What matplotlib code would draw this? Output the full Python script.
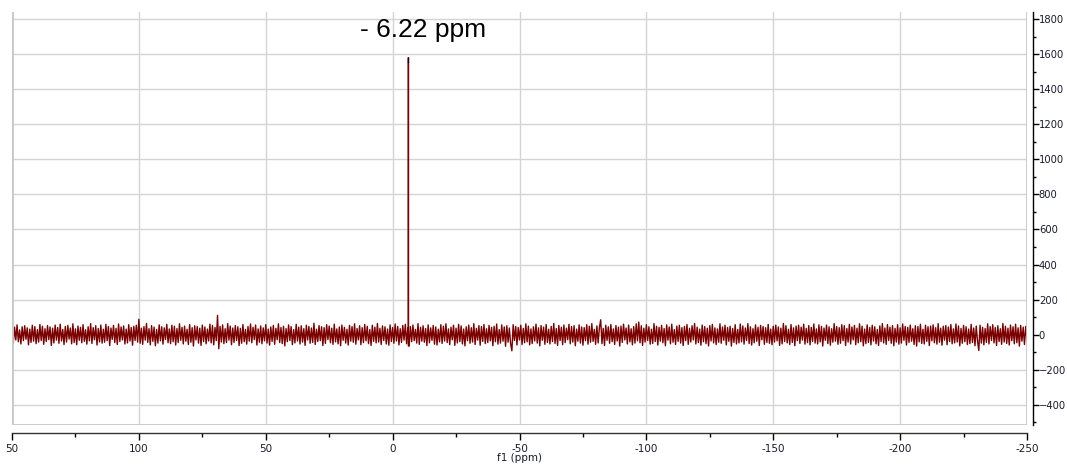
import numpy as np
import matplotlib
matplotlib.use("Agg")
import matplotlib.pyplot as plt
from matplotlib.ticker import MultipleLocator, FixedLocator

# ---- data ----
ppm_start, ppm_end = 150.0, -250.0
noise = [
    36,-48,43,-30,56,-40,27,-53,45,-34,51,-26,39,-58,32,-44,54,-37,46,-51,29,-42,58,-33,48,
    -55,34,-39,52,-28,44,-61,37,-47,55,-31,41,-49,60,-36,30,-56,47,-42,53,-25,38,-52,62,-45,
    33,-57,49,-32,42,-46,57,-38,28,-54,45,-35,63,-50,40,-29,51,-59,35,-41,55,-48,31,-43,59,
    -34,47,-62,38,-27,53,-45,36,-56,61,-39,44,-30,50,-53,32,-47,57,-36,41,-60,48,-33,54,-42,
    88,-49,37,-55,46,-31,64,-44,34,-58,52,-38,43,-63,30,-48,56,-35,45,-54,39,-28,59,-46,33,
    -51,54,-40,48,-59,35,-45,62,-32,42,-53,49,-37,31,-56,58,-43,40,-65,51,-30,46,-48,37,-61,
    55,-39,44,-52,32,-36,60,-47,53,-58,41,-34,110,-80,47,-42,56,-51,34,-45,63,-31,49,-57,38,
    -44,52,-33,45,-62,36,-49,58,-40,30,-54,47,-37,61,-46,42,-28,55,-59,33,-43,50,-52,39,-35,
    57,-48,32,-60,44,-38,53,-55,36,-29,62,-45,41,-51,48,-64,35,-40,56,-33,46,-57,29,-47,59,
    -36,43,-53,51,-42,34,-61,54,-30,47,-49,38,-44,65,-56,31,-39,52,-34,45,-62,40,-50,57,-28,
    49,-46,37,-55,60,-41,33,-52,44,-63,55,-32,42,-48,31,-59,53,-37,46,-43,62,-54,35,-30,51,
    -57,40,-45,58,-35,48,-51,29,-61,54,-38,43,-47,64,-42,36,-56,50,-33,45,-53,32,-60,56,-39,
    41,-49,61,-36,47,-58,34,-44,53,-31,59,-52,38,-65,46,-40,55,-34,30,-48,63,-55,42,-37,51,
    -43,35,-62,56,-46,39,-32,52,-54,44,-59,31,-41,57,-50,48,-36,62,-45,33,-57,43,-29,54,-61,
    37,-47,59,-39,50,-53,32,-64,45,-34,55,-49,40,-42,63,-56,36,-31,52,-60,46,-38,58,-51,34,
    -45,53,-35,42,-63,48,-40,61,-54,29,-48,56,-37,44,-66,51,-43,38,-52,-92,57,-33,47,-59,41,
    -30,54,-56,36,-46,62,-41,49,-58,33,-51,45,-36,60,-48,39,-64,52,-32,43,-55,58,-44,31,-53,
    47,-39,64,-50,35,-61,53,-33,42,-57,55,-45,37,-29,59,-52,46,-42,51,-63,32,-37,56,-48,44,
    -60,40,-34,57,-54,48,-43,63,-38,30,-55,50,-47,41,85,-51,36,-62,54,-32,45,-49,58,-40,33,
    -56,52,-36,43,-65,49,-44,60,-30,38,-53,55,-41,34,-58,46,-48,62,-35,72,-46,51,-61,37,-42,
    57,-33,45,-54,31,-50,63,-39,48,-59,42,-37,53,-46,35,-63,56,-31,44,-52,60,-43,29,-56,49,
    -38,54,-48,40,-62,47,-34,58,-55,36,-42,51,-30,64,-53,43,-45,32,-60,55,-40,46,-51,37,-64,
    52,-36,59,-47,39,-56,33,-43,62,-49,44,-32,54,-58,41,-38,48,-65,35,-44,57,-53,30,-47,61,
    -41,50,-54,38,-33,63,-51,45,-59,34,-46,56,-37,42,-62,53,-29,47,-55,40,-44,59,-49,32,-57,
    48,-42,55,-35,44,-61,37,-52,64,-39,51,-47,31,-56,58,-44,39,-63,49,-34,54,-50,43,-31,60,
    -54,36,-45,52,-58,42,-38,61,-48,33,-53,56,-41,47,-65,38,-32,55,-51,45,-60,34,-43,63,-37,
    46,-55,40,-49,57,-34,51,-62,35,-42,59,-53,44,-30,53,-57,37,-46,62,-40,48,-64,32,-51,56,
    -44,41,-58,54,-36,45,-52,30,-61,50,-39,63,-47,38,-55,58,-33,43,-49,52,-63,36,-42,57,-54,
    39,-48,61,-32,47,-59,42,-44,55,-37,34,-56,51,-65,46,-41,59,-50,31,-53,54,-38,45,-62,49,
    -35,56,-46,40,-54,63,-43,37,-60,48,-31,52,-57,44,-39,58,-52,33,-47,61,-42,50,-64,36,-49,
    53,-40,45,-56,32,-51,59,-45,38,-63,49,-36,-90,54,-48,42,-58,35,-44,62,-53,46,-33,57,-47,
    41,-61,51,-39,34,-55,64,-42,48,-50,37,-59,55,-34,45,-52,60,-46,39,-65,53,-37,43,-56,47,
    -30,
]
peak_ppm = -6.22
peak_height = 1580
peak_label = "- 6.22 ppm"
x_ticks = [150, 100, 50, 0, -50, -100, -150, -200, -250]
x_ticklabels = ["50", "100", "50", "0", "-50", "-100", "-150", "-200", "-250"]
y_ticks = [-400, -200, 0, 200, 400, 600, 800, 1000, 1200, 1400, 1600, 1800]

# ---- build trace ----
ppm = np.linspace(ppm_start, ppm_end, len(noise))
inten = np.array(noise, dtype=float)
idx = np.searchsorted(-ppm, -peak_ppm)
ppm = np.insert(ppm, idx, [peak_ppm, peak_ppm, peak_ppm])
inten = np.insert(inten, idx, [inten[idx - 1], peak_height, inten[idx]])

fig = plt.figure(figsize=(10.67, 4.69), dpi=100)
ax = fig.add_axes([12/1067, 1 - 425/469, (1027 - 12)/1067, (425 - 12)/469])

color = "#7b0000"
ax.plot(ppm, inten, color=color, lw=1.0)
ax.plot([peak_ppm, peak_ppm], [peak_height - 25, peak_height], color="#000050", lw=0.9)

ax.set_xlim(ppm_start, ppm_end)
ax.set_ylim(-515, 1840)

ax.xaxis.set_major_locator(FixedLocator(x_ticks))
ax.set_xticklabels(x_ticklabels)
ax.xaxis.set_minor_locator(MultipleLocator(25))
ax.yaxis.set_major_locator(FixedLocator(y_ticks))
ax.yaxis.set_minor_locator(MultipleLocator(100))

ax.yaxis.tick_right()
ax.yaxis.set_label_position("right")

ax.grid(True, which="major", color="#d4d4d4", lw=1.0)
ax.set_axisbelow(True)

for s in ["left", "top"]:
    ax.spines[s].set_visible(False)
ax.spines["right"].set_position(("outward", 4))
ax.spines["bottom"].set_position(("outward", 6))
ax.spines["right"].set_color("black")
ax.spines["bottom"].set_color("#333333")
ax.spines["right"].set_linewidth(1.0)
ax.spines["bottom"].set_linewidth(1.0)

# gray inner frame lines
ax.axvline(ppm_start, color="#c8c8c8", lw=2)
ax.axvline(ppm_end, color="#c8c8c8", lw=2)
ax.axhline(-515, color="#c8c8c8", lw=2)

ax.tick_params(axis="y", which="major", length=4, width=1, pad=0.5, labelsize=7.2, colors="black")
ax.tick_params(axis="y", which="minor", length=2.5, width=1)
ax.tick_params(axis="x", which="major", length=5, width=1, pad=3, labelsize=7.5)
ax.tick_params(axis="x", which="minor", length=3, width=1)
for lbl in ax.get_yticklabels():
    lbl.set_color("#1a1a2e")
for lbl in ax.get_xticklabels():
    lbl.set_color("#1a1a2e")

ax.set_xlabel("f1 (ppm)", fontsize=7.5, labelpad=-1, color="#1a1a2e")

ax.text(-12.0, 1697, peak_label, fontsize=19,
        family="Liberation Sans", ha="center", va="baseline", color="black")

fig.savefig("out.png", dpi=100)
